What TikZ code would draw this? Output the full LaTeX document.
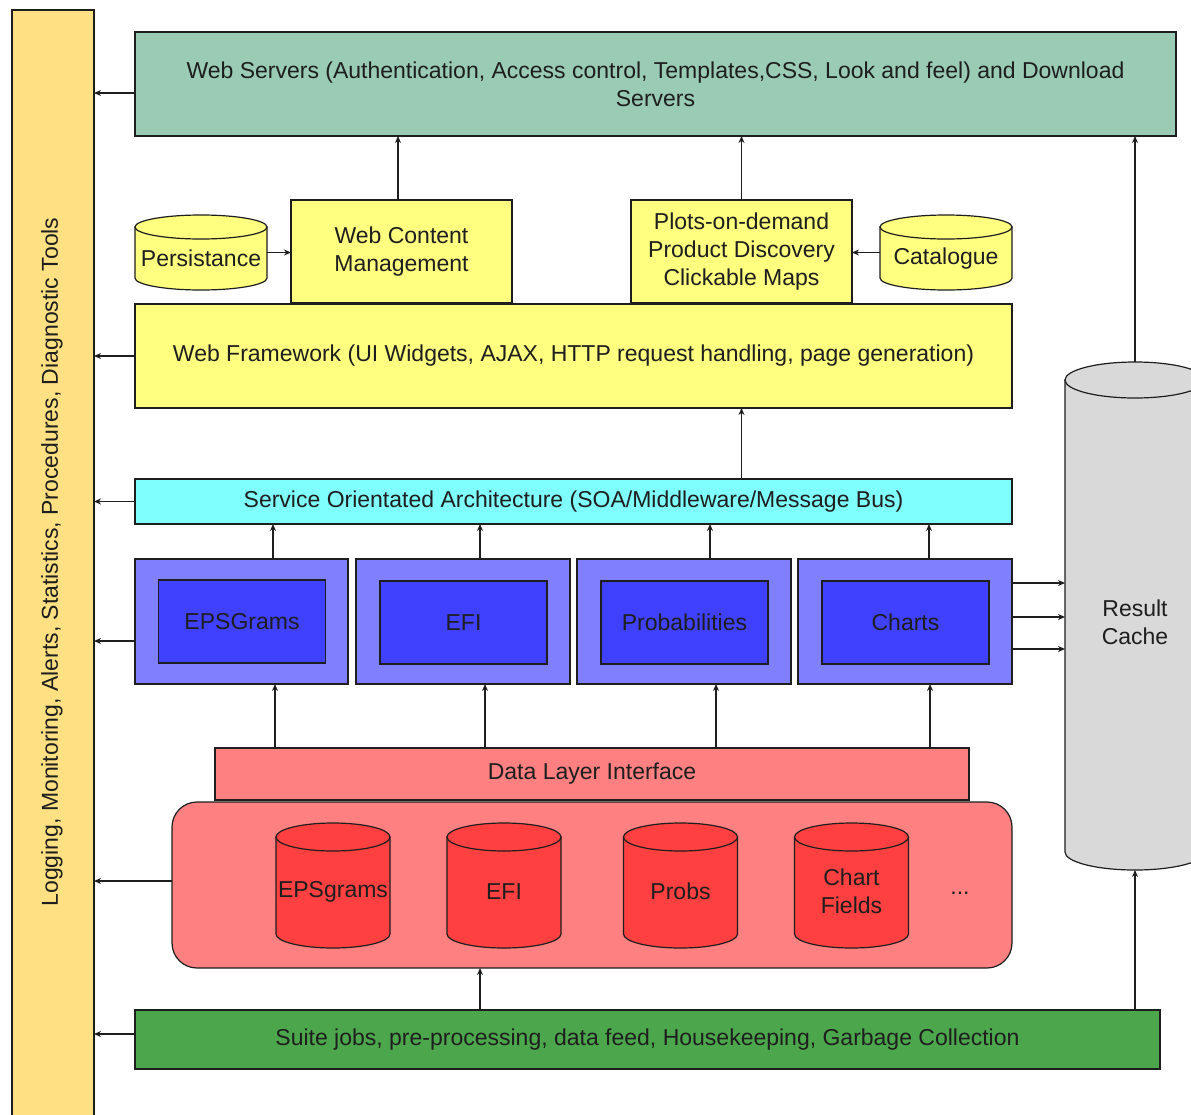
\documentclass[tikz,border=0pt]{standalone}
\usepackage{fontspec}
\setmainfont{Liberation Sans}
\usetikzlibrary{arrows.meta}
\definecolor{barc}{HTML}{FFE183}
\definecolor{wsc}{HTML}{9ACBB4}
\definecolor{yelc}{HTML}{FFFF80}
\definecolor{soac}{HTML}{80FFFF}
\definecolor{bluo}{HTML}{8080FF}
\definecolor{blui}{HTML}{4040FF}
\definecolor{pinkc}{HTML}{FF8080}
\definecolor{redc}{HTML}{FF4040}
\definecolor{grayc}{HTML}{D9D9D9}
\definecolor{greenc}{HTML}{4CA64C}
\definecolor{inkc}{HTML}{1E1E1E}
\newcommand\lab{\fontsize{23}{28}\selectfont}
\newcommand\mycyl[8]{%
  \draw[cylline, fill=#7] (#2-#5,#3+#6) -- (#2-#5,#4-#6) arc[start angle=180,end angle=360,x radius=#5pt,y radius=#6pt] -- (#2+#5,#3+#6) -- cycle;
  \draw[cylline, fill=#7] (#2,#3+#6) ellipse[x radius=#5pt, y radius=#6pt];
  \node[lbl, minimum width=2*#5pt, minimum height={(#4-#3)*1pt}] (#1) at (#2,{(#3+#4)/2}) {};
  \node[lbl] (#1-text) at ([yshift=-6pt]#1.center) {#8};
}
\begin{document}
\begin{tikzpicture}[x=1pt,y=-1pt,
  lbl/.style={inner sep=0pt, outer sep=0pt, font=\lab, text=inkc, align=center},
  box/.style={lbl, draw=inkc, line width=1.2pt},
  cylline/.style={draw=inkc, line width=1.2pt},
  arr/.style={-{Stealth[length=7pt,width=6pt]}, line width=1.2pt, draw=inkc}]
\useasboundingbox (0,0) rectangle (1191,1114);
\clip (0,0) rectangle (1191,1114);
\fill[white] (0,0) rectangle (1191,1114);

% left bar
\node[box, fill=barc, minimum width=82pt, minimum height=1120pt] (bar) at (53,570) {};
\node[lbl, rotate=90] (bartext) at (52,562) {Logging, Monitoring, Alerts, Statistics, Procedures, Diagnostic Tools};

% top
\node[box, fill=wsc, minimum width=1041pt, minimum height=104pt] (ws) at (655.5,84)
  {Web Servers (Authentication, Access control, Templates,CSS, Look and feel) and Download\\Servers};
\node[box, fill=yelc, minimum width=221pt, minimum height=103pt] (wcm) at (401.5,251.5) {Web Content\\Management};
\node[box, fill=yelc, minimum width=221pt, minimum height=103pt] (plots) at (741.5,251.5) {Plots-on-demand\\Product Discovery\\Clickable Maps};
\mycyl{persist}{201}{215}{290}{66}{12}{yelc}{Persistance}
\mycyl{cat}{946}{215}{290}{66}{12}{yelc}{Catalogue}
\node[box, fill=yelc, minimum width=877pt, minimum height=104pt] (wf) at (573.5,356)
  {Web Framework (UI Widgets, AJAX, HTTP request handling, page generation)};
\node[box, fill=soac, minimum width=877pt, minimum height=45pt] (soa) at (573.5,501.5)
  {Service Orientated Architecture (SOA/Middleware/Message Bus)};

% services
\node[box, fill=bluo, minimum width=213pt, minimum height=125pt] (eo) at (241.5,621.5) {};
\node[box, fill=bluo, minimum width=214pt, minimum height=125pt] (fo) at (463,621.5) {};
\node[box, fill=bluo, minimum width=214pt, minimum height=125pt] (po) at (684,621.5) {};
\node[box, fill=bluo, minimum width=214pt, minimum height=125pt] (co) at (905,621.5) {};
\node[box, fill=blui, minimum width=167pt, minimum height=83pt] (ei) at (242,621.5) {EPSGrams};
\node[box, fill=blui, minimum width=167pt, minimum height=83pt] (fi) at (463.5,622.5) {EFI};
\node[box, fill=blui, minimum width=167pt, minimum height=83pt] (pi) at (684.5,622.5) {Probabilities};
\node[box, fill=blui, minimum width=167pt, minimum height=83pt] (ci) at (905.5,622.5) {Charts};

% result cache
\mycyl{rc}{1135}{362}{870}{70}{18}{grayc}{Result\\Cache}

% data layer
\node[box, fill=pinkc, minimum width=754pt, minimum height=52pt] (dli) at (592,774) {Data Layer Interface};
\node[box, fill=pinkc, rounded corners=25pt, minimum width=840pt, minimum height=166pt] (store) at (592,885) {};
\mycyl{d1}{333}{823}{948}{57}{14}{redc}{EPSgrams}
\mycyl{d2}{504}{823}{948}{57}{14}{redc}{EFI}
\mycyl{d3}{680.5}{823}{948}{57}{14}{redc}{Probs}
\mycyl{d4}{851.5}{823}{948}{57}{14}{redc}{Chart\\Fields}
\node[lbl] (dots) at (960,893) {...};

% bottom
\node[box, fill=greenc, minimum width=1025pt, minimum height=59pt] (suite) at (647.5,1039.5)
  {Suite jobs, pre-processing, data feed, Housekeeping, Garbage Collection};

% connectors to the left bar
\draw[arr] ([yshift=-9pt]ws.west) -- ([yshift=-9pt]ws.west -| bar.east);
\draw[arr] (wf.west) -- (wf.west -| bar.east);
\draw[arr] (soa.west) -- (soa.west -| bar.east);
\draw[arr] ([yshift=-19.5pt]eo.west) -- ([yshift=-19.5pt]eo.west -| bar.east);
\draw[arr] ([yshift=4pt]store.west) -- ([yshift=4pt]store.west -| bar.east);
\draw[arr] ([yshift=5.5pt]suite.west) -- ([yshift=5.5pt]suite.west -| bar.east);

% upper connectors
\draw[arr] (persist.east) -- (persist.east -| wcm.west);
\draw[arr] (cat.west) -- (cat.west -| plots.east);
\draw[arr] ([xshift=-3.5pt]wcm.north) -- ([xshift=-3.5pt]wcm.north |- ws.south);
\draw[arr] (plots.north) -- (plots.north |- ws.south);
\draw[arr] (plots.center |- soa.north) -- (plots.center |- wf.south);

% services to SOA
\draw[arr] ([xshift=31.5pt]eo.north) -- ([xshift=31.5pt]eo.north |- soa.south);
\draw[arr] ([xshift=17pt]fo.north) -- ([xshift=17pt]fo.north |- soa.south);
\draw[arr] ([xshift=26pt]po.north) -- ([xshift=26pt]po.north |- soa.south);
\draw[arr] ([xshift=24pt]co.north) -- ([xshift=24pt]co.north |- soa.south);

% data layer to services
\draw[arr] ([xshift=33.5pt]eo.south |- dli.north) -- ([xshift=33.5pt]eo.south);
\draw[arr] ([xshift=22pt]fo.south |- dli.north) -- ([xshift=22pt]fo.south);
\draw[arr] ([xshift=32pt]po.south |- dli.north) -- ([xshift=32pt]po.south);
\draw[arr] ([xshift=25pt]co.south |- dli.north) -- ([xshift=25pt]co.south);

% charts to result cache
\draw[arr] ([yshift=38.5pt]co.east) -- ([yshift=38.5pt]co.east -| rc.west);
\draw[arr] ([yshift=4.5pt]co.east) -- ([yshift=4.5pt]co.east -| rc.west);
\draw[arr] ([yshift=-27.5pt]co.east) -- ([yshift=-27.5pt]co.east -| rc.west);

% result cache and suite
\draw[arr] (rc.north) -- (rc.north |- ws.south);
\draw[arr] (rc.south |- suite.north) -- (rc.south);
\draw[arr] ([xshift=-167.5pt]suite.north) -- ([xshift=-167.5pt]suite.north |- store.south);
\end{tikzpicture}
\end{document}
